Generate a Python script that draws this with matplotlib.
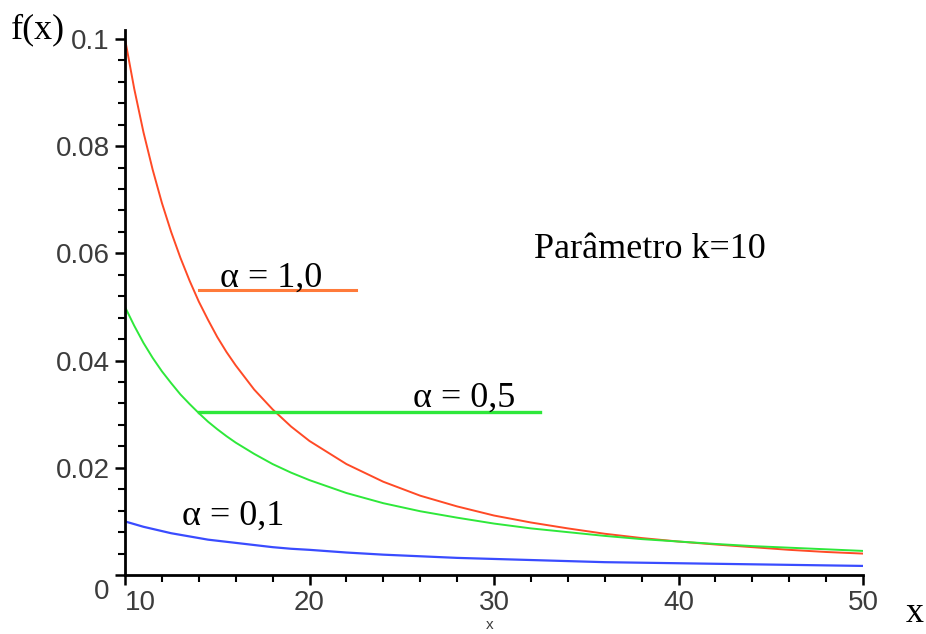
import matplotlib
matplotlib.use("Agg")
import matplotlib.pyplot as plt
from matplotlib.ticker import MultipleLocator
from matplotlib.transforms import ScaledTranslation

# Pareto densities with scale parameter k = 10, sampled along x
x = [10, 10.5, 11, 11.5, 12, 12.5, 13, 13.5, 14, 14.5, 15, 15.5, 16, 17, 18, 19, 20,
     22, 24, 26, 28, 30, 32, 34, 36, 38, 40, 42, 44, 46, 48, 50]
f_alpha_10 = [0.1000, 0.0907, 0.0826, 0.0756, 0.0694, 0.0640, 0.0592, 0.0549, 0.0510, 0.0476,
              0.0444, 0.0416, 0.0391, 0.0346, 0.0309, 0.0277, 0.0250,
              0.0207, 0.0174, 0.0148, 0.0128, 0.0111, 0.0098, 0.0087, 0.0077, 0.0069,
              0.00625, 0.0057, 0.0052, 0.0047, 0.0043, 0.0040]
f_alpha_05 = [0.0500, 0.0465, 0.0433, 0.0405, 0.0380, 0.0358, 0.0337, 0.0319, 0.0302, 0.0286,
              0.0272, 0.0259, 0.0247, 0.0226, 0.0207, 0.0191, 0.0177,
              0.0153, 0.0134, 0.0119, 0.0107, 0.0096, 0.0087, 0.0080, 0.0073, 0.0067,
              0.00625, 0.0058, 0.0054, 0.0051, 0.0048, 0.0045]
f_alpha_01 = [0.0100, 0.0095, 0.0090, 0.0086, 0.0082, 0.0078, 0.0075, 0.0072, 0.0069, 0.0066,
              0.0064, 0.0062, 0.0060, 0.0056, 0.0052, 0.0049, 0.0047,
              0.0042, 0.0038, 0.0035, 0.0032, 0.0030, 0.0028, 0.0026, 0.0024, 0.0023,
              0.0022, 0.0021, 0.0020, 0.0019, 0.0018, 0.0017]

x_ticks = [10, 20, 30, 40, 50]
y_ticks = [0, 0.02, 0.04, 0.06, 0.08, 0.1]
y_tick_labels = ["0", "0.02", "0.04", "0.06", "0.08", "0.1"]

RED = "#ff4a26"
RED_KEY = "#ff7a3a"
GREEN = "#2ee83a"
BLUE = "#3a4cff"
TICK_GRAY = "#3c3c3c"
SERIF = "Liberation Serif"
SANS = "Liberation Sans"

fig = plt.figure(figsize=(9.26, 6.34), dpi=100)
ax = fig.add_axes([0.135, 0.093, 0.797, 0.860])

ax.plot(x, f_alpha_10, color=RED, lw=1.4)
ax.plot(x, f_alpha_05, color=GREEN, lw=1.4)
ax.plot(x, f_alpha_01, color=BLUE, lw=1.6)

ax.set_xlim(10, 50)
ax.set_ylim(0, 0.1017)

for side in ("top", "right"):
    ax.spines[side].set_visible(False)
for side in ("left", "bottom"):
    ax.spines[side].set_linewidth(2.0)
    ax.spines[side].set_color("black")

ax.set_xticks(x_ticks)
ax.set_xticklabels([str(v) for v in x_ticks])
ax.set_yticks(y_ticks)
ax.set_yticklabels(y_tick_labels)
ax.xaxis.set_minor_locator(MultipleLocator(2))
ax.yaxis.set_minor_locator(MultipleLocator(0.004))
ax.tick_params(which="major", direction="out", length=7, width=1.8, color="black",
               labelsize=20, labelcolor=TICK_GRAY, pad=4)
ax.tick_params(which="minor", direction="out", length=5, width=1.5, color="black")
for lab in ax.get_xticklabels() + ax.get_yticklabels():
    lab.set_fontfamily(SANS)

# First x label sits to the right of the origin, "0" label sits a bit lower
xl = ax.get_xticklabels()
xl[0].set_horizontalalignment("left")
yl = ax.get_yticklabels()
yl[0].set_transform(yl[0].get_transform() + ScaledTranslation(0, -10 / 72, fig.dpi_scale_trans))

# Key lines and labels
ax.plot([14, 22.5], [0.0531, 0.0531], color=RED_KEY, lw=2.2)
ax.plot([14, 32.5], [0.0304, 0.0304], color=GREEN, lw=2.4)
ax.text(17.9, 0.0537, "\u03b1 = 1,0", family=SERIF, fontsize=26, ha="center", va="baseline")
ax.text(28.4, 0.0313, "\u03b1 = 0,5", family=SERIF, fontsize=26, ha="center", va="baseline")
ax.text(15.85, 0.0093, "\u03b1 = 0,1", family=SERIF, fontsize=26, ha="center", va="baseline")
ax.text(38.45, 0.0591, "Par\u00e2metro k=10", family=SERIF, fontsize=26, ha="center",
        va="baseline")

# Axis titles
fig.text(38 / 926, 1 - 30 / 634, "f(x)", family=SERIF, fontsize=26, ha="center", va="center")
fig.text(915 / 926, 1 - 614 / 634, "x", family=SERIF, fontsize=26, ha="center", va="center")
fig.text(490 / 926, 1 - 625 / 634, "x", family=SANS, fontsize=11, color=TICK_GRAY,
         ha="center", va="center")

fig.savefig("out.png", dpi=100, facecolor="white")
